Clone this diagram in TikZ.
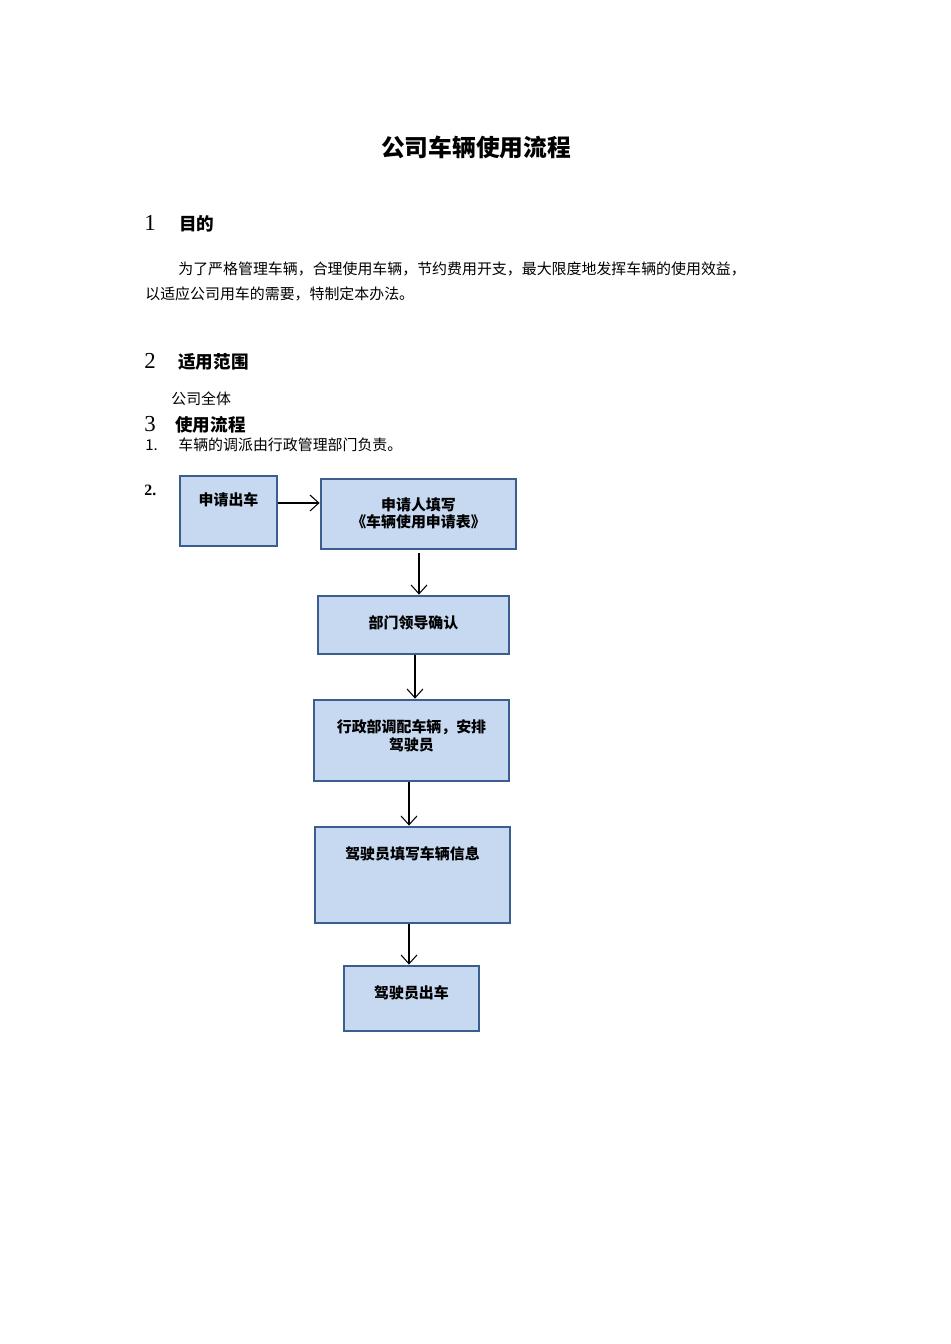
\documentclass[tikz,border=0pt]{standalone}
\usepackage{fontspec}
\setmainfont{Noto Sans CJK SC}
\newfontfamily\numfont{Liberation Serif}
\usetikzlibrary{positioning,arrows.meta,calc}
\definecolor{boxfill}{HTML}{C6D9F1}
\definecolor{boxline}{HTML}{3A5F8F}
\newcommand*{\boxtxt}[1]{\fontsize{8.5}{10}\selectfont\bfseries #1}

\begin{document}
\begin{tikzpicture}[x=0.02cm,y=-0.02cm,
  flowbox/.style={draw=boxline,line width=1.6pt,fill=boxfill,inner sep=0pt},
  steptext/.style={anchor=north,align=center,inner sep=0pt,yshift=-9pt,font=\boxtxt{}},
  flow/.style={-{Straight Barb[length=5pt,width=9pt]},line width=0.6pt},
  body/.style={anchor=base west,inner sep=0pt,font=\fontsize{8.5}{10}\selectfont},
  head/.style={anchor=base west,inner sep=0pt,font=\fontsize{10}{12}\selectfont\bfseries},
  num/.style={anchor=base west,inner sep=0pt,font=\fontsize{13}{14}\selectfont\numfont}]
\useasboundingbox (0,0) rectangle (950,1344);
% Title and text
\node[anchor=base,inner sep=0pt,font=\fontsize{13.5}{16}\selectfont\bfseries] (title) at (476,157) {公司车辆使用流程};
\node[num] (n1) at (144,231) {1};
\node[head] (h1) at (179,231) {目的};
\node[body] (p1) at (178,275) {为了严格管理车辆，合理使用车辆，节约费用开支，最大限度地发挥车辆的使用效益，};
\node[body] (p2) at (145,300) {以适应公司用车的需要，特制定本办法。};
\node[num] (n2) at (144,369) {2};
\node[head] (h2) at (178,369) {适用范围};
\node[body] (p3) at (171,404) {公司全体};
\node[num] (n3) at (144,431) {3};
\node[head] (h3) at (175,431) {使用流程};
\node[body] (l1) at (145,450) {1.};
\node[body] (l1t) at (178,450) {车辆的调派由行政管理部门负责。};
\node[body,font=\fontsize{9}{10}\selectfont\numfont\bfseries] (l2) at (144,495) {2.};
% Flow boxes
\node[flowbox,minimum width=1.94cm,minimum height=1.4cm] (apply) at (228.5,511) {};
\node[steptext,yshift=-1pt] (applyt) at (apply.north) {申请出车};
\node[flowbox,minimum width=3.9cm,minimum height=1.4cm] (form) at (418.5,514) {};
\node[steptext,yshift=-2pt] (formt) at (form.north) {申请人填写\\《车辆使用申请表》};
\node[flowbox,minimum width=3.82cm,minimum height=1.16cm] (dept) at (413.5,625) {};
\node[steptext,yshift=-3pt] (deptt) at (dept.north) {部门领导确认};
\node[flowbox,minimum width=3.9cm,minimum height=1.62cm] (admin) at (411.5,740.5) {};
\node[steptext,yshift=-3pt] (admint) at (admin.north) {行政部调配车辆，安排\\驾驶员};
\node[flowbox,minimum width=3.9cm,minimum height=1.92cm] (info) at (412.5,875) {};
\node[steptext,yshift=-3pt] (infot) at (info.north) {驾驶员填写车辆信息};
\node[flowbox,minimum width=2.7cm,minimum height=1.3cm] (go) at (411.5,998.5) {};
\node[steptext,yshift=-3pt] (got) at (go.north) {驾驶员出车};
% Connectors
\coordinate (a1) at (278,503);
\draw[flow] (a1) -- (a1 -| form.west);
\coordinate (a2) at (419,553);
\draw[flow] (a2) -- (a2 |- dept.north);
\coordinate (a3) at (415,655);
\draw[flow] (a3) -- (a3 |- admin.north);
\coordinate (a4) at (409,782);
\draw[flow] (a4) -- (a4 |- info.north);
\coordinate (a5) at (409,924);
\draw[flow] (a5) -- (a5 |- go.north);
\end{tikzpicture}
\end{document}
